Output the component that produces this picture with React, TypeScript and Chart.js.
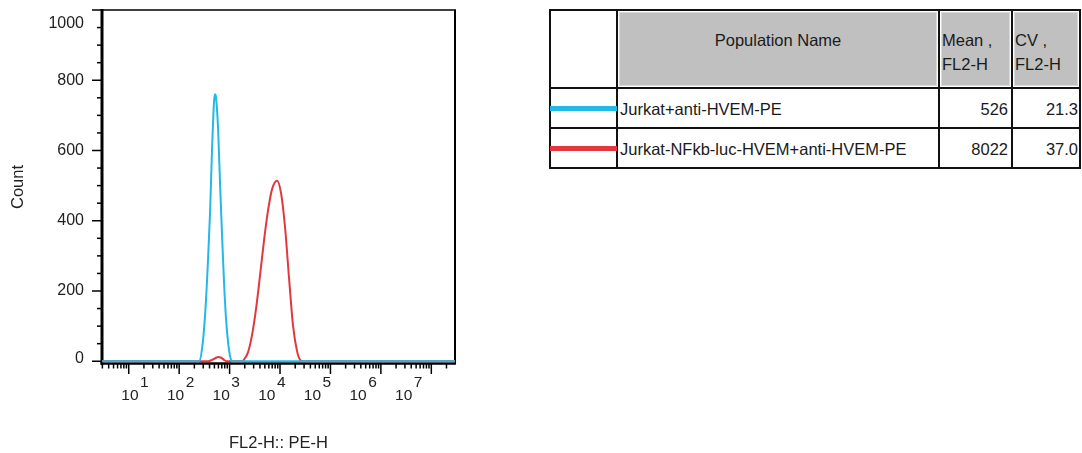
import React, { useEffect, useRef } from 'react';
import { Chart, registerables } from 'chart.js';

Chart.register(...registerables);

// ---- Data ----
const populationNames = ['Jurkat+anti-HVEM-PE', 'Jurkat-NFkb-luc-HVEM+anti-HVEM-PE'];
const meanValues = ['526', '8022'];
const cvValues = ['21.3', '37.0'];
const seriesColors = ['#22b9e6', '#e2383d'];

// FL2-H (PE-H) intensity vs Count, histogram outline points
const blueX = [2.95, 248, 284, 326, 374, 410, 449, 492, 515, 539, 590, 647, 709, 777, 851, 932, 1021, 1119, 2.95e7];
const blueY = [0, 0, 35, 130, 290, 425, 605, 740, 760, 750, 665, 505, 358, 222, 120, 55, 15, 0, 0];

const redX = [2.95, 374, 449, 539, 590, 680, 777, 891, 1800, 1936, 2324, 2790, 3350, 4022, 4828, 5797, 6959, 8745, 10497, 12602, 15128, 18162, 21802, 25003, 28683, 2.95e7];
const redY = [0, 0, 4, 10, 12, 10, 4, 0, 0, 5, 26, 75, 150, 245, 345, 430, 490, 514, 478, 380, 235, 100, 28, 4, 0, 0];

const yTickValues = [0, 200, 400, 600, 800, 1000];
const xDecadeExponents = [1, 2, 3, 4, 5, 6, 7];
const yTitle = 'Count';
const xTitle = 'FL2-H:: PE-H';

const FONT = "'Liberation Sans', Arial, sans-serif";

const axesPlugin = {
  id: 'flowAxes',
  beforeDatasetsDraw(chart: any) {
    const { ctx, chartArea: a, scales } = chart;
    const x = scales.x;
    const y = scales.y;
    ctx.save();
    ctx.strokeStyle = '#000';
    // box
    ctx.lineWidth = 1.5;
    ctx.beginPath();
    ctx.moveTo(a.left - 1, a.top);
    ctx.lineTo(a.right + 1, a.top);
    ctx.stroke();
    ctx.lineWidth = 2;
    ctx.beginPath();
    ctx.moveTo(a.right, a.top);
    ctx.lineTo(a.right, a.bottom + 1);
    ctx.stroke();
    ctx.lineWidth = 3;
    ctx.beginPath();
    ctx.moveTo(a.left, a.top - 1);
    ctx.lineTo(a.left, a.bottom + 1.5);
    ctx.stroke();
    ctx.lineWidth = 2.5;
    ctx.beginPath();
    ctx.moveTo(a.left - 1.5, a.bottom + 0.5);
    ctx.lineTo(a.right + 1, a.bottom + 0.5);
    ctx.stroke();

    // y ticks
    ctx.lineWidth = 1.5;
    for (let v = 0; v <= 1000; v += 50) {
      const py = y.getPixelForValue(v);
      const major = v % 200 === 0;
      ctx.beginPath();
      ctx.moveTo(a.left - 1, py);
      ctx.lineTo(a.left - (major ? 10 : 5), py);
      ctx.stroke();
    }
    // x ticks
    for (let k = 0; k <= 7; k++) {
      for (let m = 1; m <= 9; m++) {
        const v = m * Math.pow(10, k);
        if (v < x.min || v > x.max) continue;
        const px = x.getPixelForValue(v);
        ctx.beginPath();
        ctx.moveTo(px, a.bottom + 1);
        ctx.lineTo(px, a.bottom + (m === 1 ? 11 : 5.5));
        ctx.stroke();
      }
    }

    // y labels
    ctx.fillStyle = '#222';
    ctx.font = `16px ${FONT}`;
    ctx.textAlign = 'right';
    ctx.textBaseline = 'middle';
    yTickValues.forEach((v) => {
      let py = y.getPixelForValue(v);
      py = Math.max(a.top + 13.5, Math.min(a.bottom - 4.5, py));
      ctx.fillText(String(v), 84, py);
    });

    // x labels 10^k
    ctx.textBaseline = 'alphabetic';
    xDecadeExponents.forEach((k) => {
      const cx = x.getPixelForValue(Math.pow(10, k)) + 1.2 - (k - 1) * 4.8;
      ctx.font = `15.5px ${FONT}`;
      ctx.textAlign = 'center';
      ctx.fillText('10', cx, 400);
      const w = ctx.measureText('10').width;
      ctx.textAlign = 'left';
      ctx.fillText(String(k), cx + w / 2 + 1.5, 387);
    });

    // titles
    ctx.font = `16.5px ${FONT}`;
    ctx.textAlign = 'center';
    ctx.textBaseline = 'middle';
    ctx.fillText(xTitle, 278.5, 443.5);
    ctx.save();
    ctx.translate(18.5, 187);
    ctx.rotate(-Math.PI / 2);
    ctx.fillText(yTitle, 0, 0);
    ctx.restore();

    ctx.restore();
  },
};

export default function App() {
  const ref = useRef<HTMLCanvasElement>(null);

  useEffect(() => {
    const chart = new Chart(ref.current as HTMLCanvasElement, {
      type: 'line',
      data: {
        datasets: [
          {
            label: populationNames[0],
            data: blueX.map((v, i) => ({ x: v, y: blueY[i] })),
            borderColor: seriesColors[0],
            borderWidth: 2,
            pointRadius: 0,
            cubicInterpolationMode: 'monotone',
            fill: false,
          },
          {
            label: populationNames[1],
            data: redX.map((v, i) => ({ x: v, y: redY[i] })),
            borderColor: seriesColors[1],
            borderWidth: 2,
            pointRadius: 0,
            cubicInterpolationMode: 'monotone',
            fill: false,
          },
        ],
      },
      options: {
        animation: false,
        responsive: false,
        maintainAspectRatio: false,
        events: [],
        layout: { padding: { left: 102, right: 85, top: 10, bottom: 90 } },
        plugins: { legend: { display: false }, tooltip: { enabled: false } },
        scales: {
          x: { type: 'logarithmic', min: 2.95, max: 2.95e7, display: false },
          y: { type: 'linear', min: -5, max: 1000, display: false },
        },
      } as any,
      plugins: [axesPlugin],
    });
    return () => chart.destroy();
  }, []);

  const colX = [550, 617, 939, 1012, 1080];
  const rowY = [10, 88, 128, 168];
  const textStyle: React.CSSProperties = {
    position: 'absolute',
    fontFamily: FONT,
    fontSize: 16.5,
    color: '#1a1a1a',
    lineHeight: '24px',
    whiteSpace: 'nowrap',
  };

  return (
    <div style={{ position: 'fixed', left: 0, top: 0, width: 1082, height: 453, background: '#fff', overflow: 'hidden' }}>
      <canvas ref={ref} width={540} height={453} style={{ position: 'absolute', left: 0, top: 0, display: 'block' }} />
      {/* header gray cells */}
      {[1, 2, 3].map((c) => (
        <div
          key={'g' + c}
          style={{
            position: 'absolute',
            left: colX[c] + 2,
            top: rowY[0] + 2,
            width: colX[c + 1] - colX[c] - 4,
            height: rowY[1] - rowY[0] - 4,
            background: '#c0c0c0',
            border: '1px solid #dadada',
            boxSizing: 'border-box',
          }}
        />
      ))}
      {/* grid lines */}
      {colX.map((x, i) => (
        <div key={'v' + i} style={{ position: 'absolute', left: x - 1, top: rowY[0] - 1, width: 2, height: rowY[3] - rowY[0] + 2, background: '#111' }} />
      ))}
      {rowY.map((y, i) => (
        <div key={'h' + i} style={{ position: 'absolute', left: colX[0] - 1, top: y - 1, width: colX[4] - colX[0] + 2, height: 2, background: '#111' }} />
      ))}
      {/* header text */}
      <div style={{ ...textStyle, left: colX[1], width: colX[2] - colX[1], top: 28, textAlign: 'center' }}>Population Name</div>
      <div style={{ ...textStyle, left: colX[2] + 3, top: 28 }}>
        Mean ,<br />FL2-H
      </div>
      <div style={{ ...textStyle, left: colX[3] + 3, top: 28 }}>
        CV ,<br />FL2-H
      </div>
      {/* rows */}
      {populationNames.map((name, i) => {
        const cy = (rowY[i + 1] + rowY[i + 2]) / 2 + 0.5;
        return (
          <React.Fragment key={'r' + i}>
            <div style={{ position: 'absolute', left: colX[0], top: cy - 2.5, width: colX[1] - colX[0], height: 5, background: seriesColors[i] }} />
            <div style={{ ...textStyle, left: colX[1] + 3, top: cy - 12 }}>{name}</div>
            <div style={{ ...textStyle, left: colX[2], width: colX[3] - colX[2] - 4, top: cy - 12, textAlign: 'right' }}>{meanValues[i]}</div>
            <div style={{ ...textStyle, left: colX[3], width: colX[4] - colX[3] - 2, top: cy - 12, textAlign: 'right' }}>{cvValues[i]}</div>
          </React.Fragment>
        );
      })}
    </div>
  );
}
